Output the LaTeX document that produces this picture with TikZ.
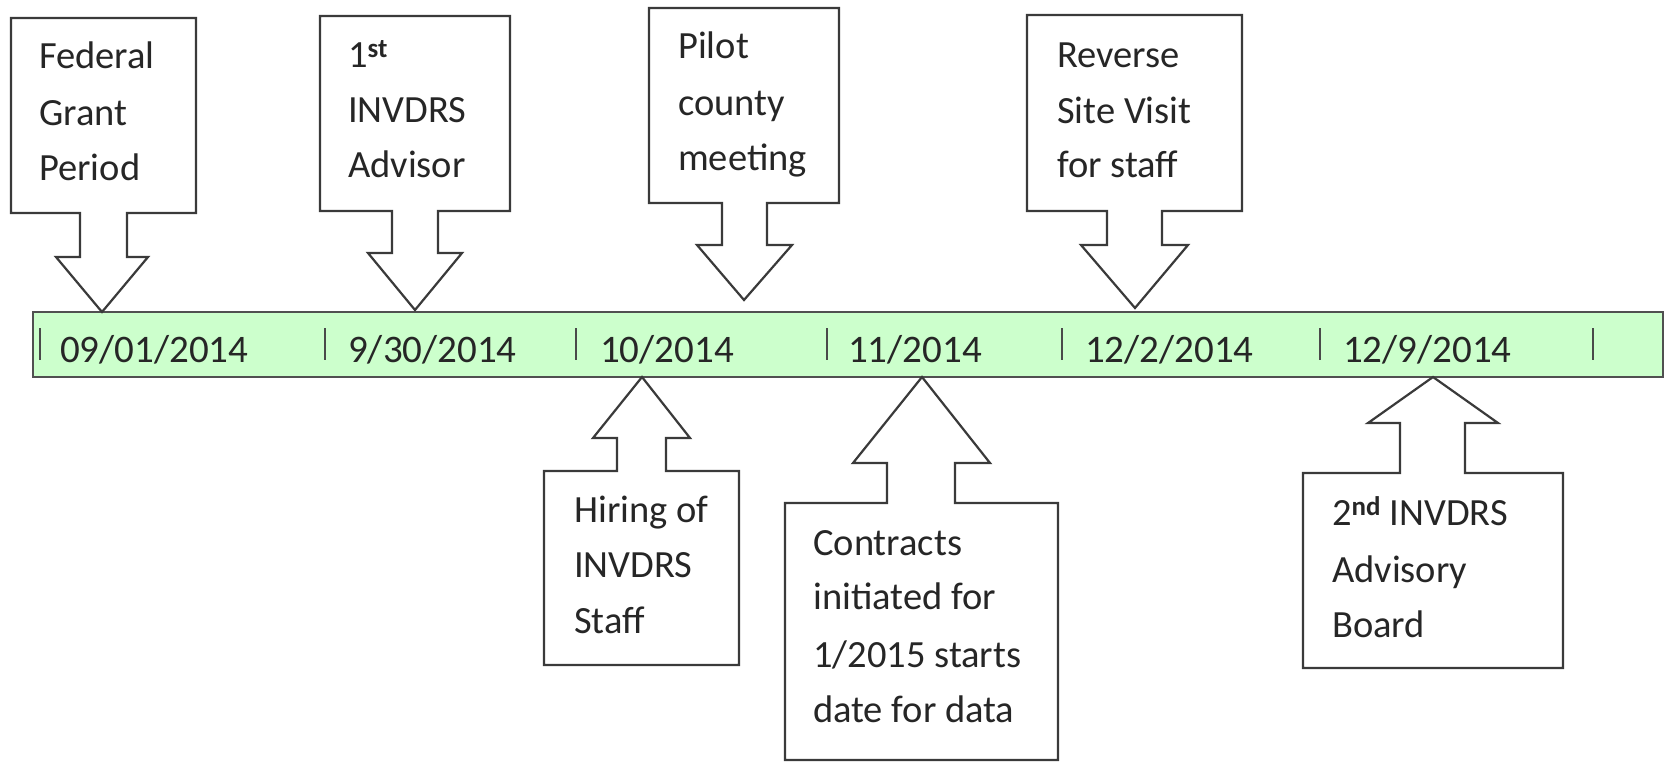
\documentclass[tikz,border=0pt]{standalone}
\usepackage{fontspec}
\setmainfont{Carlito}
\definecolor{linec}{HTML}{3A3A3A}
\definecolor{textc}{HTML}{262626}
\definecolor{barfill}{HTML}{CCFFCC}
\definecolor{barline}{HTML}{505050}
\definecolor{tickc}{HTML}{4A4A4A}
\newcommand\boxfont{\fontsize{38.5}{46}\selectfont}
\newcommand\datefont{\fontsize{39}{46}\selectfont}
\tikzset{
  callout/.style={draw=linec, line width=2.2pt, fill=white, line join=miter},
  lbl/.style={anchor=base west, inner sep=0pt, font=\boxfont, text=textc},
  datelbl/.style={anchor=base west, inner sep=0pt, font=\datefont, text=textc},
  barstyle/.style={draw=barline, line width=2.4pt, fill=barfill},
  tickmark/.style={draw=tickc, line width=2pt}
}
\begin{document}
\begin{tikzpicture}[x=1pt,y=-1pt]
\useasboundingbox (0,0) rectangle (1664,763);

% timeline bar
\draw[barstyle] (33,312) rectangle (1663,377);
\foreach \tx in {40,325,576,827,1062,1320,1593}
  \draw[tickmark] (\tx,328) -- (\tx,360);

% dates
\node[datelbl] (d1) at (60,362) {09/01/2014};
\node[datelbl] (d2) at (348,362) {9/30/2014};
\node[datelbl] (d3) at (600,362) {10/2014};
\node[datelbl] (d4) at (848,362) {11/2014};
\node[datelbl] (d5) at (1085,362) {12/2/2014};
\node[datelbl] (d6) at (1343,362) {12/9/2014};

% Federal Grant Period
\draw[callout] (11,18) -- (196,18) -- (196,213) -- (127,213) -- (127,257) -- (148,257)
  -- (102,312) -- (56,257) -- (80,257) -- (80,213) -- (11,213) -- cycle;
\node[lbl] (f1) at (39,68) {Federal};
\node[lbl] (f2) at (39,125) {Grant};
\node[lbl] (f3) at (39,180) {Period};

% 1st INVDRS Advisor
\draw[callout] (320,16) -- (510,16) -- (510,211) -- (438,211) -- (438,253) -- (462,253)
  -- (415,310) -- (368,253) -- (392,253) -- (392,211) -- (320,211) -- cycle;
\node[lbl] (a1) at (348,67) {1\textsuperscript{\bfseries st}};
\node[lbl] (a2) at (348,122) {INVDRS};
\node[lbl] (a3) at (348,177) {Advisor};

% Pilot county meeting
\draw[callout] (649,8) -- (839,8) -- (839,203) -- (767,203) -- (767,245) -- (792,245)
  -- (744,300) -- (697,245) -- (722,245) -- (722,203) -- (649,203) -- cycle;
\node[lbl] (p1) at (678,58) {Pilot};
\node[lbl] (p2) at (678,115) {county};
\node[lbl] (p3) at (678,170) {meeting};

% Reverse Site Visit for staff
\draw[callout] (1027,15) -- (1242,15) -- (1242,211) -- (1162,211) -- (1162,245) -- (1188,245)
  -- (1135,308) -- (1081,245) -- (1107,245) -- (1107,211) -- (1027,211) -- cycle;
\node[lbl] (r1) at (1057,67) {Reverse};
\node[lbl] (r2) at (1057,123) {Site Visit};
\node[lbl] (r3) at (1057,177) {for staff};

% Hiring of INVDRS Staff
\draw[callout] (544,665) -- (739,665) -- (739,471) -- (666,471) -- (666,438) -- (690,438)
  -- (642,377) -- (593,438) -- (617,438) -- (617,471) -- (544,471) -- cycle;
\node[lbl] (h1) at (574,522) {Hiring of};
\node[lbl] (h2) at (574,577) {INVDRS};
\node[lbl] (h3) at (574,633) {Staff};

% Contracts
\draw[callout] (785,760) -- (1058,760) -- (1058,503) -- (955,503) -- (955,463) -- (990,463)
  -- (922,377) -- (853,463) -- (887,463) -- (887,503) -- (785,503) -- cycle;
\node[lbl] (c1) at (813,555) {Contracts};
\node[lbl] (c2) at (813,609) {initiated for};
\node[lbl] (c3) at (813,667) {1/2015 starts};
\node[lbl] (c4) at (813,722) {date for data};

% 2nd INVDRS Advisory Board
\draw[callout] (1303,668) -- (1563,668) -- (1563,473) -- (1465,473) -- (1465,423) -- (1498,423)
  -- (1433,377) -- (1368,423) -- (1400,423) -- (1400,473) -- (1303,473) -- cycle;
\node[lbl] (b1) at (1332,525) {2\textsuperscript{\bfseries nd} INVDRS};
\node[lbl] (b2) at (1332,582) {Advisory};
\node[lbl] (b3) at (1332,637) {Board};
\end{tikzpicture}
\end{document}
